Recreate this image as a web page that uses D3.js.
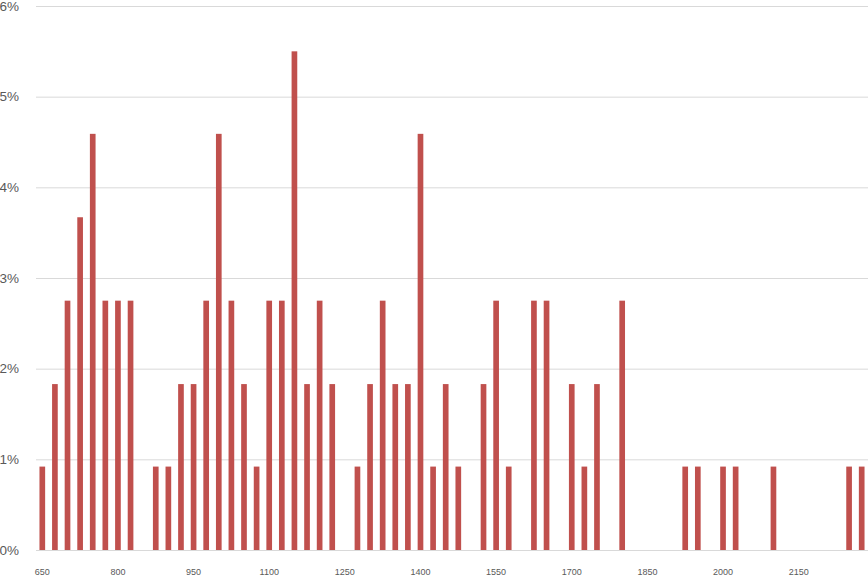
<!DOCTYPE html>
<html>
<head>
<meta charset="utf-8">
<script src="https://cdn.jsdelivr.net/npm/d3@7"></script>
<style>
  body { margin: 0; background: #fff; }
  svg { display: block; font-family: Lato, "Open Sans", sans-serif; }
  .grid line { stroke: #d9d9d9; stroke-width: 1; }
  .tick text { fill: #595959; }
</style>
</head>
<body>
<svg width="868" height="576"></svg>
<script>
// bins (lower edge), 25 wide
let bins = [650,675,700,725,750,775,800,825,850,875,900,925,950,975,1000,1025,1050,1075,
  1100,1125,1150,1175,1200,1225,1250,1275,1300,1325,1350,1375,1400,1425,1450,1475,
  1500,1525,1550,1575,1600,1625,1650,1675,1700,1725,1750,1775,1800,1825,1850,1875,
  1900,1925,1950,1975,2000,2025,2050,2075,2100,2125,2150,2175,2200,2225,2250,2275];
// share of observations, percent
let shares = [0.92,1.83,2.75,3.67,4.59,2.75,2.75,2.75,0,0.92,0.92,1.83,1.83,2.75,4.59,2.75,1.83,0.92,
  2.75,2.75,5.50,1.83,2.75,1.83,0,0.92,1.83,2.75,1.83,1.83,4.59,0.92,1.83,0.92,
  0,1.83,2.75,0.92,0,2.75,2.75,0,1.83,0.92,1.83,0,2.75,0,0,0,
  0,0.92,0.92,0,0.92,0.92,0,0,0.92,0,0,0,0,0,0.92,0.92];
let xTicks = [650,800,950,1100,1250,1400,1550,1700,1850,2000,2150];
let yTicks = [0,1,2,3,4,5,6];

let svg = d3.select("svg");
let margin = {top: 6, right: 0, bottom: 26, left: 36};
let width = 868, height = 576;

let x = d3.scaleBand()
  .domain(bins)
  .range([margin.left, width - margin.right])
  .paddingInner(0.55)
  .paddingOuter(0.275);

let y = d3.scaleLinear()
  .domain([0, 6])
  .range([height - margin.bottom, margin.top]);

// gridlines + y labels
let yAxis = d3.axisLeft(y)
  .tickValues(yTicks)
  .tickSize(-(width - margin.left - margin.right))
  .tickPadding(17)
  .tickFormat(d => d + "%");

let yg = svg.append("g")
  .attr("class", "grid")
  .attr("transform", "translate(" + margin.left + ",0)")
  .call(yAxis);
yg.select(".domain").remove();
yg.selectAll(".tick text").style("font-size", "13.5px").style("font-weight", 300);

// bars
svg.append("g")
  .selectAll("rect")
  .data(bins)
  .enter().append("rect")
    .attr("x", d => x(d))
    .attr("width", x.bandwidth())
    .attr("y", (d, i) => y(shares[i]))
    .attr("height", (d, i) => y(0) - y(shares[i]))
    .attr("fill", "#c0504d");

// x labels
let xAxis = d3.axisBottom(x)
  .tickValues(xTicks)
  .tickSize(0)
  .tickPadding(19);

let xg = svg.append("g")
  .attr("transform", "translate(0," + (height - margin.bottom) + ")")
  .call(xAxis);
xg.select(".domain").remove();
xg.selectAll(".tick text").style("font-size", "9px");
</script>
</body>
</html>
